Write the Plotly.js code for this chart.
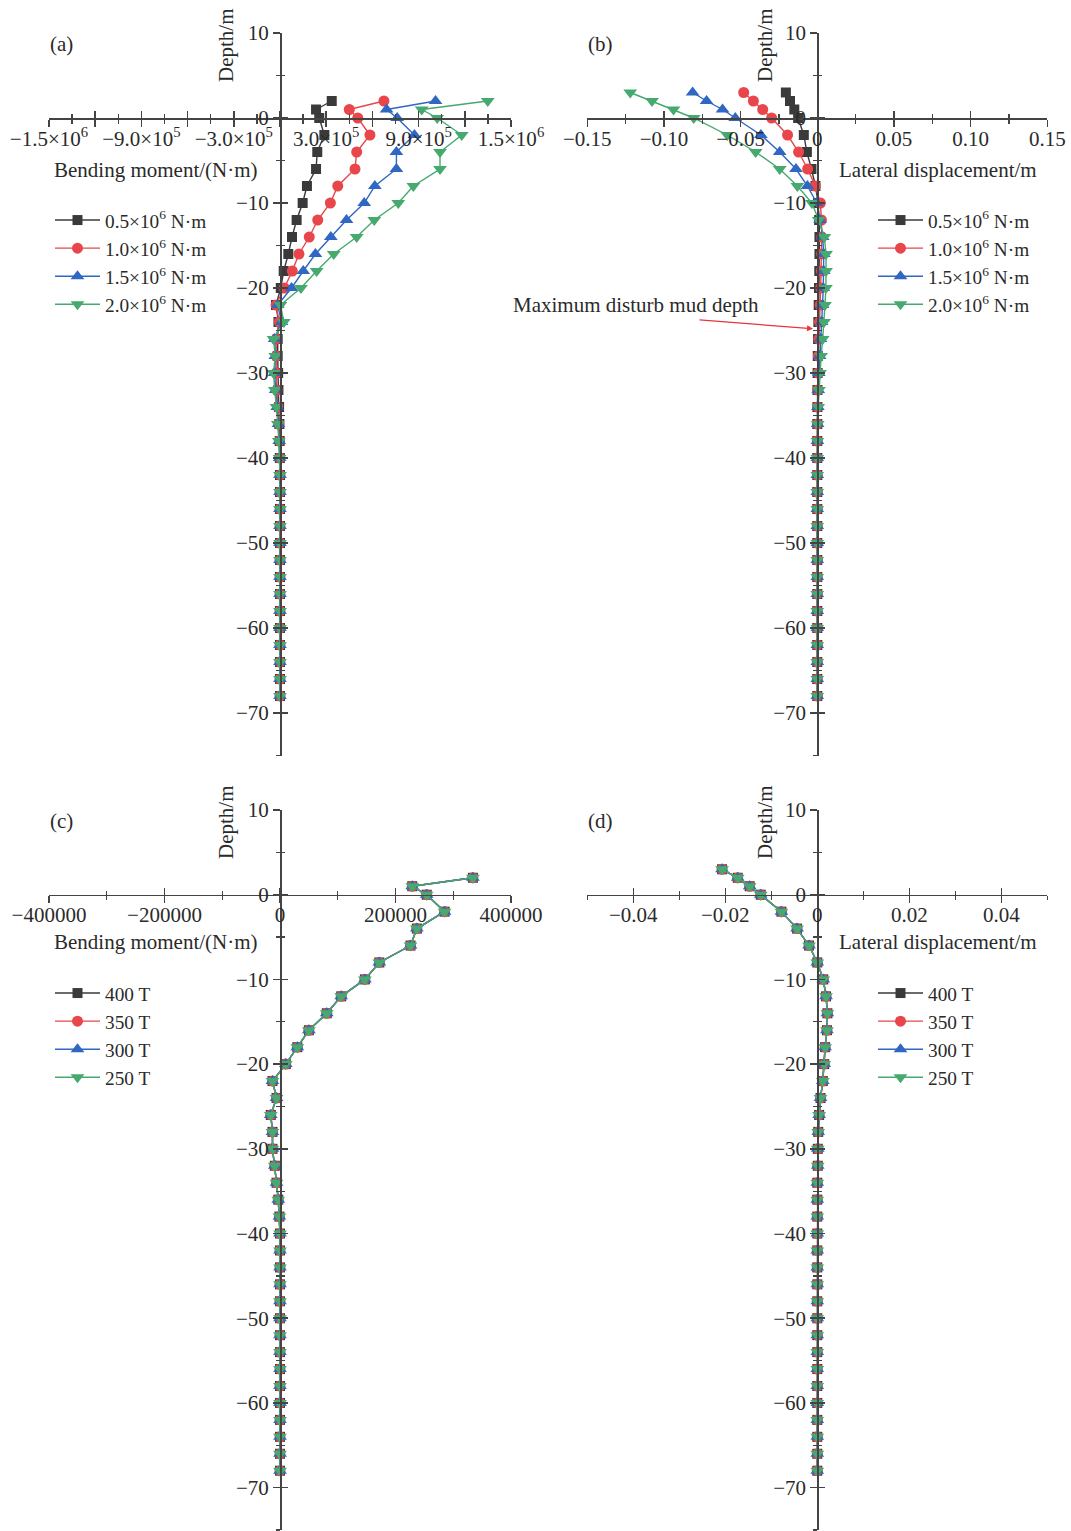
<!DOCTYPE html>
<html>
<head>
<meta charset="utf-8">
<script src="https://cdn.plot.ly/plotly-3.0.1.min.js"></script>
<style>html,body{margin:0;padding:0;background:#fff}#chart{width:1071px;height:1531px}</style>
</head>
<body>
<div id="chart"></div>
<script>
// ---------- DATA ----------
const depthMoment = [2,1,0,-2,-4,-6,-8,-10,-12,-14,-16,-18,-20,-22,-24,-26,-28,-30,-32,-34,-36,-38,-40,-42,-44,-46,-48,-50,-52,-54,-56,-58,-60,-62,-64,-66,-68];
const depthDisp = [3,2,1,0,-2,-4,-6,-8,-10,-12,-14,-16,-18,-20,-22,-24,-26,-28,-30,-32,-34,-36,-38,-40,-42,-44,-46,-48,-50,-52,-54,-56,-58,-60,-62,-64,-66,-68];

// (a) bending moment, N·m
const momentA_05 = [336000,234000,255000,288000,242000,234000,175000,147000,108000,78000,54000,24000,5000,-26000,-10000,-15000,-15000,-12000,-10000,-6000,-4000,-2000,-1000,0,0,0,0,0,0,0,0,0,0,0,0,0,0];
const momentA_10 = [675000,450000,505000,584000,498000,487000,375000,327000,245000,190000,123000,80000,28000,-26000,-5000,-25000,-24000,-25000,-20000,-14000,-8000,-4000,-1000,0,0,0,0,0,0,0,0,0,0,0,0,0,0];
const momentA_15 = [1010000,692000,761000,873000,756000,756000,616000,547000,432000,330000,230000,151000,75000,-15000,10000,-35000,-30000,-35000,-28000,-18000,-10000,-5000,-2000,0,0,0,0,0,0,0,0,0,0,0,0,0,0];
const momentA_20 = [1349000,920000,1021000,1180000,1039000,1039000,866000,768000,612000,498000,349000,238000,136000,3000,25000,-42000,-31000,-42000,-34000,-23000,-14000,-8000,-3000,0,0,0,0,0,0,0,0,0,0,0,0,0,0];

// (b) lateral displacement, m
const dispB_05 = [-0.0205,-0.0178,-0.0150,-0.0125,-0.0088,-0.0068,-0.0038,-0.0012,0.0005,0.0012,0.0014,0.0014,0.0013,0.0011,0.0009,0.0007,0.0005,0.0003,0.0002,0.0001,0.0001,0,0,0,0,0,0,0,0,0,0,0,0,0,0,0,0,0];
const dispB_10 = [-0.0480,-0.0417,-0.0356,-0.0298,-0.0194,-0.0122,-0.0063,-0.0013,0.0020,0.0027,0.0029,0.0028,0.0026,0.0022,0.0018,0.0014,0.0010,0.0007,0.0005,0.0003,0.0002,0.0001,0,0,0,0,0,0,0,0,0,0,0,0,0,0,0,0];
const dispB_15 = [-0.0813,-0.0722,-0.0618,-0.0535,-0.0368,-0.0245,-0.0139,-0.0064,-0.0004,0.0018,0.0035,0.0042,0.0042,0.0039,0.0034,0.0028,0.0021,0.0015,0.0010,0.0006,0.0004,0.0002,0.0001,0,0,0,0,0,0,0,0,0,0,0,0,0,0,0];
const dispB_20 = [-0.1220,-0.1078,-0.0938,-0.0806,-0.0587,-0.0402,-0.0245,-0.0130,-0.0035,0.0009,0.0046,0.0057,0.0057,0.0056,0.0050,0.0044,0.0035,0.0025,0.0018,0.0011,0.0006,0.0003,0.0001,0,0,0,0,0,0,0,0,0,0,0,0,0,0,0];

// (c) bending moment, N·m (curves coincide)
const momentC_400 = [334000,229000,254000,285000,237000,226000,172000,147000,106000,81000,50000,30000,10000,-13000,-6000,-16000,-13000,-13000,-9000,-6000,-3000,-1000,0,0,0,0,0,0,0,0,0,0,0,0,0,0,0];
const momentC_350 = [334000,229000,254000,285000,237000,226000,172000,147000,106000,81000,50000,30000,10000,-13000,-6000,-16000,-13000,-13000,-9000,-6000,-3000,-1000,0,0,0,0,0,0,0,0,0,0,0,0,0,0,0];
const momentC_300 = [334000,229000,254000,285000,237000,226000,172000,147000,106000,81000,50000,30000,10000,-13000,-6000,-16000,-13000,-13000,-9000,-6000,-3000,-1000,0,0,0,0,0,0,0,0,0,0,0,0,0,0,0];
const momentC_250 = [334000,229000,254000,285000,237000,226000,172000,147000,106000,81000,50000,30000,10000,-13000,-6000,-16000,-13000,-13000,-9000,-6000,-3000,-1000,0,0,0,0,0,0,0,0,0,0,0,0,0,0,0];

// (d) lateral displacement, m (curves coincide)
const dispD_400 = [-0.0207,-0.0173,-0.0147,-0.0123,-0.0078,-0.0044,-0.0018,0.0000,0.0013,0.0019,0.0022,0.0021,0.0017,0.0015,0.0012,0.0007,0.0004,0.0002,0.0001,0.0001,0,0,0,0,0,0,0,0,0,0,0,0,0,0,0,0,0,0];
const dispD_350 = [-0.0207,-0.0173,-0.0147,-0.0123,-0.0078,-0.0044,-0.0018,0.0000,0.0013,0.0019,0.0022,0.0021,0.0017,0.0015,0.0012,0.0007,0.0004,0.0002,0.0001,0.0001,0,0,0,0,0,0,0,0,0,0,0,0,0,0,0,0,0,0];
const dispD_300 = [-0.0207,-0.0173,-0.0147,-0.0123,-0.0078,-0.0044,-0.0018,0.0000,0.0013,0.0019,0.0022,0.0021,0.0017,0.0015,0.0012,0.0007,0.0004,0.0002,0.0001,0.0001,0,0,0,0,0,0,0,0,0,0,0,0,0,0,0,0,0,0];
const dispD_250 = [-0.0207,-0.0173,-0.0147,-0.0123,-0.0078,-0.0044,-0.0018,0.0000,0.0013,0.0019,0.0022,0.0021,0.0017,0.0015,0.0012,0.0007,0.0004,0.0002,0.0001,0.0001,0,0,0,0,0,0,0,0,0,0,0,0,0,0,0,0,0,0];

const namesTop = ['0.5×10<sup>6</sup> N·m','1.0×10<sup>6</sup> N·m','1.5×10<sup>6</sup> N·m','2.0×10<sup>6</sup> N·m'];
const namesBottom = ['400 T','350 T','300 T','250 T'];

// tick labels
const depthTickVals = [10,0,-10,-20,-30,-40,-50,-60,-70];
const depthTickText = ['10','0','−10','−20','−30','−40','−50','−60','−70'];
const momentATickVals = [-1500000,-1200000,-900000,-600000,-300000,0,300000,600000,900000,1200000,1500000];
const momentATickText = ['−1.5×10<sup>6</sup>','','−9.0×10<sup>5</sup>','','−3.0×10<sup>5</sup>','','3.0×10<sup>5</sup>','','9.0×10<sup>5</sup>','','1.5×10<sup>6</sup>'];
const dispBTickVals = [-0.15,-0.10,-0.05,0,0.05,0.10,0.15];
const dispBTickText = ['−0.15','−0.10','−0.05','0','0.05','0.10','0.15'];
const momentCTickVals = [-400000,-200000,0,200000,400000];
const momentCTickText = ['−400000','−200000','0','200000','400000'];
const dispDTickVals = [-0.04,-0.02,0,0.02,0.04];
const dispDTickText = ['−0.04','−0.02','0','0.02','0.04'];

// ---------- STYLE ----------
const FONT = 'Liberation Serif, Times New Roman, serif';
const FS = 21;
const TXT = '#2a2a2a';
const AX = '#444';
const colors = ['#3a3a3a','#e8464a','#2f67c3','#46a96e'];
const symbols = ['square','circle','triangle-up','triangle-down'];
const msizes = [10,11,12,12];

const W = 1071, H = 1531;
const px = v => v / W;
const py = v => 1 - v / H;

const traces = [];
function addSeries(xs, ys, names, xa, ya, legend) {
  xs.forEach((xv, i) => {
    traces.push({
      type: 'scatter', mode: 'lines+markers', name: names[i],
      x: xv, y: ys, xaxis: xa, yaxis: ya, legend: legend,
      line: {color: colors[i], width: 1.4},
      marker: {color: colors[i], symbol: symbols[i], size: msizes[i]},
      cliponaxis: false
    });
  });
}
addSeries([momentA_05, momentA_10, momentA_15, momentA_20], depthMoment, namesTop, 'x', 'y', 'legend');
addSeries([dispB_05, dispB_10, dispB_15, dispB_20], depthDisp, namesTop, 'x2', 'y2', 'legend2');
addSeries([momentC_400, momentC_350, momentC_300, momentC_250], depthMoment, namesBottom, 'x3', 'y3', 'legend3');
addSeries([dispD_400, dispD_350, dispD_300, dispD_250], depthDisp, namesBottom, 'x4', 'y4', 'legend4');

// overlay (tick-only) subplots to make ticks cross the axis lines
for (let k = 5; k <= 8; k++) {
  traces.push({type: 'scatter', mode: 'markers', x: [], y: [], xaxis: 'x' + k, yaxis: 'y' + k, showlegend: false, hoverinfo: 'skip'});
}

const layout = {
  width: W, height: H,
  margin: {l: 0, r: 0, t: 0, b: 0},
  paper_bgcolor: '#fff', plot_bgcolor: 'rgba(0,0,0,0)',
  font: {family: FONT, size: FS, color: TXT},
  showlegend: true,
  annotations: [], shapes: []
};

const panels = [
  {n: 1, xr: [-1500000, 1500000], xd: [49, 511], yd: [33, 755.5], x0: 280, y0: 118, tv: momentATickVals, tt: momentATickText, minor: 150000},
  {n: 2, xr: [-0.15, 0.15], xd: [587.3, 1047.3], yd: [33, 755.5], x0: 817.3, y0: 118, tv: dispBTickVals, tt: dispBTickText, minor: 0.025},
  {n: 3, xr: [-400000, 400000], xd: [49, 511], yd: [810, 1530], x0: 280, y0: 894.7, tv: momentCTickVals, tt: momentCTickText, minor: 100000},
  {n: 4, xr: [-0.05, 0.05], xd: [587.3, 1047.3], yd: [810, 1530], x0: 817.3, y0: 894.7, tv: dispDTickVals, tt: dispDTickText, minor: 0.01}
];

function key(prefix, n) { return prefix + (n === 1 ? '' : n); }

panels.forEach(p => {
  const yrange = [-75, 10];
  const xdom = [px(p.xd[0]), px(p.xd[1])];
  const ydom = [py(p.yd[1]), py(p.yd[0])];
  const xpos = py(p.y0), ypos = px(p.x0);
  const common = {showgrid: false, zeroline: false, fixedrange: true, autorange: false};
  const yId = 'y' + (p.n === 1 ? '' : p.n);
  const xId = 'x' + (p.n === 1 ? '' : p.n);
  // main axes
  layout[key('xaxis', p.n)] = Object.assign({}, common, {
    domain: xdom, range: p.xr, anchor: 'free', position: xpos,
    showline: true, linecolor: AX, linewidth: 1.5,
    tickmode: 'array', tickvals: p.tv, ticktext: p.tt,
    ticks: 'outside', ticklen: 7, tickwidth: 1.5, tickcolor: AX, ticklabelstandoff: -6,
    tickfont: {family: FONT, size: FS, color: TXT},
    minor: {tickmode: 'linear', tick0: p.xr[0], dtick: p.minor, ticks: 'outside', ticklen: 4, tickwidth: 1.3, tickcolor: AX}
  });
  layout[key('yaxis', p.n)] = Object.assign({}, common, {
    domain: ydom, range: yrange, anchor: 'free', position: ypos, side: 'left',
    showline: true, linecolor: AX, linewidth: 1.5,
    tickmode: 'array', tickvals: depthTickVals, ticktext: depthTickText,
    ticks: 'outside', ticklen: 7, tickwidth: 1.5, tickcolor: AX,
    tickfont: {family: FONT, size: FS, color: TXT},
    minor: {tickmode: 'linear', tick0: -75, dtick: 5, ticks: 'outside', ticklen: 4, tickwidth: 1.3, tickcolor: AX}
  });
  // overlay axes: inside ticks only
  const m = p.n + 4;
  layout['xaxis' + m] = Object.assign({}, common, {
    overlaying: xId, range: p.xr, anchor: 'free', position: xpos,
    showline: false, showticklabels: false,
    tickmode: 'array', tickvals: p.tv,
    ticks: 'inside', ticklen: 7, tickwidth: 1.5, tickcolor: AX,
    minor: {tickmode: 'linear', tick0: p.xr[0], dtick: p.minor, ticks: 'inside', ticklen: 4, tickwidth: 1.3, tickcolor: AX}
  });
  layout['yaxis' + m] = Object.assign({}, common, {
    overlaying: yId, range: yrange, anchor: 'free', position: ypos, side: 'left',
    showline: false, showticklabels: false,
    tickmode: 'array', tickvals: depthTickVals,
    ticks: 'inside', ticklen: 7, tickwidth: 1.5, tickcolor: AX,
    minor: {tickmode: 'linear', tick0: -75, dtick: 5, ticks: 'inside', ticklen: 4, tickwidth: 1.3, tickcolor: AX}
  });
});

// legends
const legendBase = {xanchor: 'left', yanchor: 'top', bgcolor: 'rgba(0,0,0,0)', itemwidth: 45, tracegroupgap: 0,
  font: {family: FONT, size: 19.3, color: TXT}, traceorder: 'normal'};
layout.legend = Object.assign({}, legendBase, {x: px(50), y: py(201)});
layout.legend2 = Object.assign({}, legendBase, {x: px(873), y: py(201)});
layout.legend3 = Object.assign({}, legendBase, {x: px(50), y: py(974)});
layout.legend4 = Object.assign({}, legendBase, {x: px(873), y: py(974)});

// text annotations
function txt(text, x, y, extra) {
  layout.annotations.push(Object.assign({text: text, xref: 'paper', yref: 'paper', x: px(x), y: py(y),
    showarrow: false, xanchor: 'center', yanchor: 'middle', font: {family: FONT, size: FS, color: TXT}}, extra || {}));
}
txt('(a)', 61, 44); txt('(b)', 600, 44); txt('(c)', 61, 821); txt('(d)', 600, 821);
txt('Depth/m', 226, 45, {textangle: -90}); txt('Depth/m', 765, 45, {textangle: -90});
txt('Depth/m', 226, 822, {textangle: -90}); txt('Depth/m', 765, 822, {textangle: -90});
txt('Bending moment/(N·m)', 156, 170); txt('Lateral displacement/m', 938, 170);
txt('Bending moment/(N·m)', 156, 942); txt('Lateral displacement/m', 938, 942);
txt('Maximum disturb mud depth', 636, 305);
layout.annotations.push({text: '', xref: 'x2', yref: 'y2', x: -0.0028, y: -24.8, ax: -115, ay: -9,
  showarrow: true, arrowhead: 2, arrowsize: 1, arrowwidth: 1.2, arrowcolor: '#e8343a'});

Plotly.newPlot('chart', traces, layout, {staticPlot: true, displayModeBar: false});
</script>
</body>
</html>
